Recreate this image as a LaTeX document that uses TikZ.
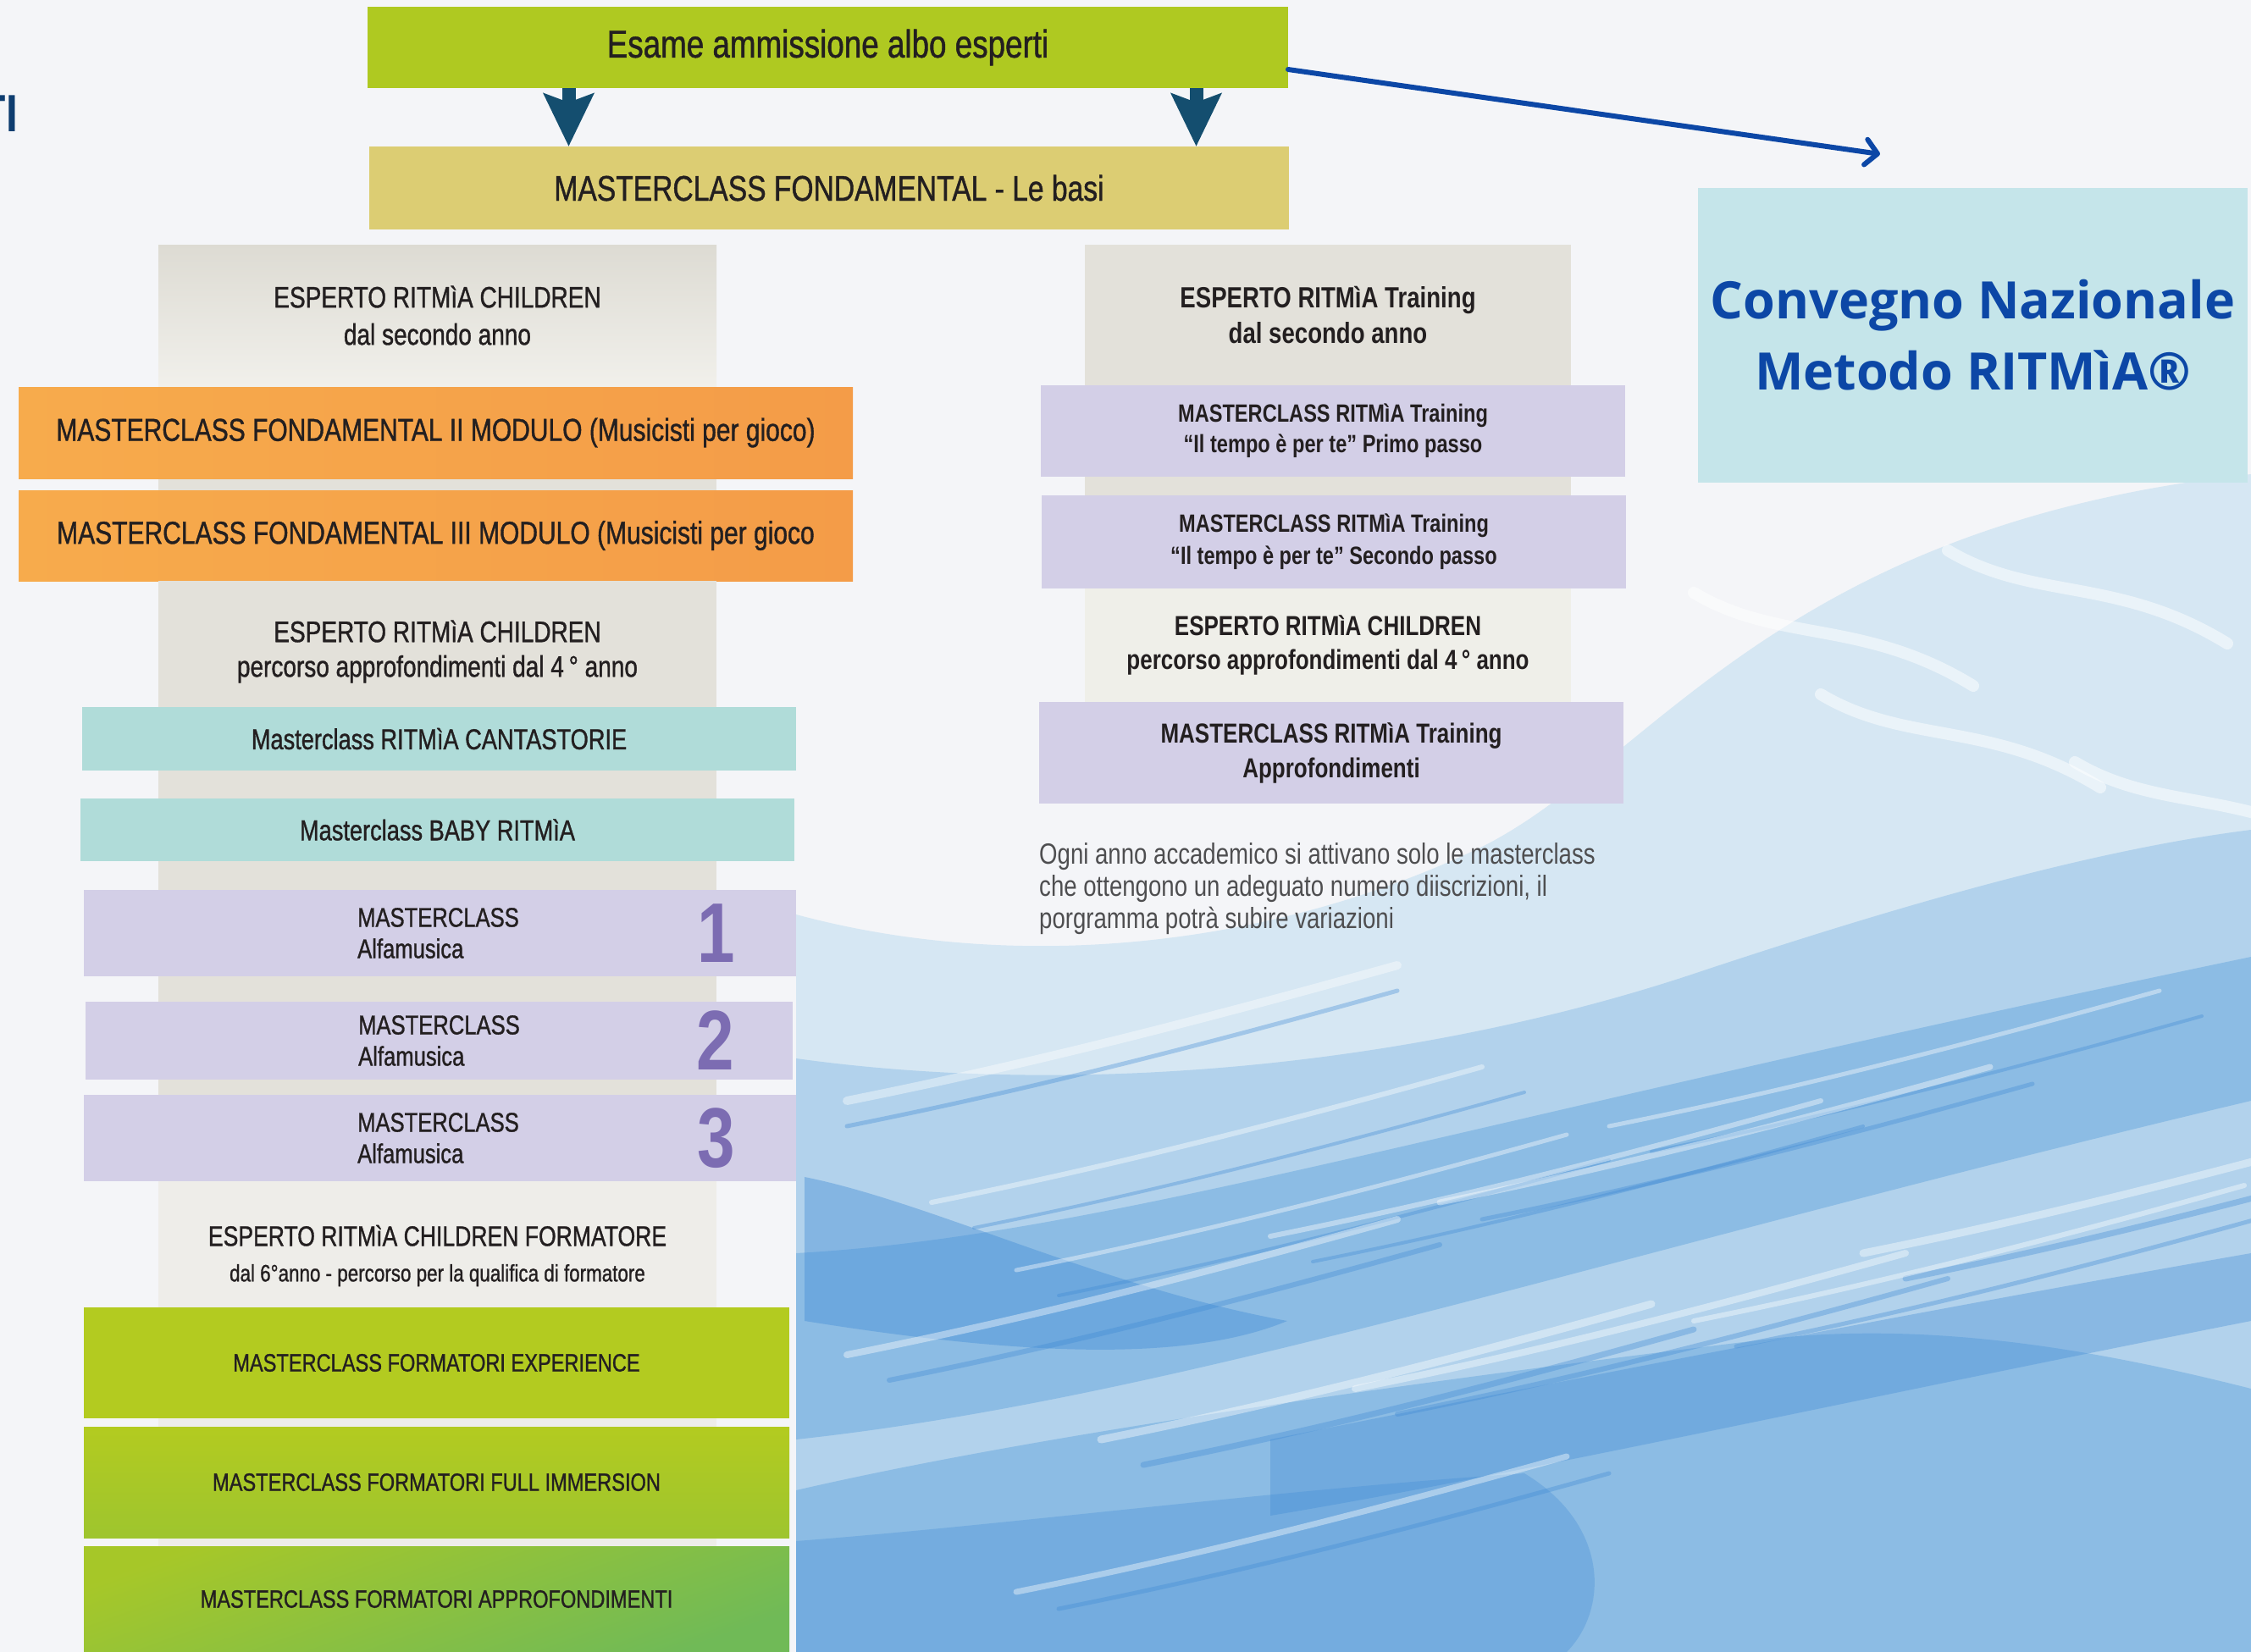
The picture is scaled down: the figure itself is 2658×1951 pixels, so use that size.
\documentclass[tikz,border=0pt]{standalone}
\usepackage{fontspec}
\setmainfont{Liberation Sans}[FakeStretch=0.8]
\newfontfamily\medfont{Liberation Sans}[FakeStretch=0.8, FakeBold=1.0]
\newfontfamily\convfont{Open Sans}
\usetikzlibrary{arrows.meta}
\definecolor{bgc}{HTML}{F4F5F8}
\definecolor{txt}{HTML}{231F20}
\definecolor{notec}{HTML}{4E4E50}
\definecolor{topgreen}{HTML}{AFC921}
\definecolor{khaki}{HTML}{DCCD73}
\definecolor{orA}{HTML}{F7AB4C}
\definecolor{orB}{HTML}{F49C48}
\definecolor{grayA}{HTML}{DDDBD3}
\definecolor{grayB}{HTML}{F1F0EB}
\definecolor{grayC}{HTML}{E3E1DA}
\definecolor{grayD}{HTML}{EEEDE9}
\definecolor{grayE}{HTML}{EFEFE9}
\definecolor{teal}{HTML}{B0DCD9}
\definecolor{lav}{HTML}{D3CFE7}
\definecolor{numc}{HTML}{7C6CB2}
\definecolor{grnA}{HTML}{B3CB20}
\definecolor{grnB}{HTML}{9EC52E}
\definecolor{grnC}{HTML}{70BA57}
\definecolor{convbg}{HTML}{C5E5EA}
\definecolor{convblue}{HTML}{0C47A6}
\definecolor{arrowc}{HTML}{144E6F}
\definecolor{navy}{HTML}{0E3D70}
\definecolor{blA}{HTML}{D6E7F3}
\definecolor{blB}{HTML}{A9CDEB}
\definecolor{blC}{HTML}{74AEE0}
\definecolor{blD}{HTML}{3F8AD5}
\begin{document}
\begin{tikzpicture}[x=1pt,y=-1pt,
  box/.style={anchor=north west, inner sep=0pt, outer sep=0pt, align=center, text=txt},
  sz/.style 2 args={font=\medfont\fontsize{#1}{#2}\selectfont},
  bsz/.style 2 args={font=\fontsize{#1}{#2}\selectfont\bfseries},
  darr/.style={draw=arrowc, line width=16pt, -{Stealth[length=62pt,width=58pt,inset=10pt]}},
  barr/.style={draw=convblue, line width=6pt, line cap=round, -{Straight Barb[length=14pt,width=30pt,line cap=round,line join=round]}},
  streak/.style={draw=white, line cap=round, opacity=0.4},
  bstreak/.style={draw=blD, line cap=round, opacity=0.35}
]
\useasboundingbox (0,0) rectangle (2658,1951);
% ---------- background ----------
\fill[bgc] (0,0) rectangle (2658,1951);
\fill[blA] (940,1080) .. controls (1200,1150) and (1500,1120) .. (1750,1000)
  .. controls (1950,900) and (2100,620) .. (2658,560) -- (2658,1951) -- (940,1951) -- cycle;
\fill[blB, opacity=0.8] (940,1250) .. controls (1300,1300) and (1700,1250) .. (2000,1150)
  .. controls (2300,1050) and (2500,1000) .. (2658,980) -- (2658,1951) -- (940,1951) -- cycle;
\fill[blC, opacity=0.6] (940,1480) .. controls (1300,1460) and (1700,1330) .. (2658,1130)
  -- (2658,1300) .. controls (1900,1480) and (1400,1650) .. (940,1700) -- cycle;
\fill[blC, opacity=0.6] (940,1760) .. controls (1200,1700) and (1600,1640) .. (2100,1580)
  .. controls (2300,1560) and (2500,1600) .. (2658,1640) -- (2658,1951) -- (940,1951) -- cycle;
\fill[blD, opacity=0.4] (950,1390) .. controls (1100,1420) and (1300,1520) .. (1520,1560)
  .. controls (1400,1610) and (1200,1600) .. (950,1560) -- cycle;
\fill[blD, opacity=0.35] (1500,1700) .. controls (1800,1640) and (2200,1560) .. (2658,1480)
  -- (2658,1560) .. controls (2200,1650) and (1800,1740) .. (1500,1790) -- cycle;
\fill[blD, opacity=0.3] (940,1820) .. controls (1200,1800) and (1500,1760) .. (1800,1740)
  .. controls (1900,1800) and (1900,1900) .. (1850,1951) -- (940,1951) -- cycle;
\foreach \a/\b/\w in {1000/1330/5, 1150/1450/4, 1050/1630/6, 1250/1530/4, 1350/1730/7,
  1550/1490/4, 1750/1440/5, 1950/1360/4, 1650/1670/6, 2050/1590/5, 2250/1510/7, 1250/1900/5}
  \draw[bstreak, line width=\w pt] (\a,\b) .. controls (\a+200,\b-40) and (\a+400,\b-90) .. (\a+650,\b-160);
\foreach \a/\b/\w in {1000/1300/10, 1100/1420/6, 1000/1600/8, 1200/1500/5, 1300/1700/9,
  1500/1460/6, 1700/1420/7, 1900/1330/5, 1600/1640/8, 2000/1560/6, 2200/1480/9, 1200/1880/7}
  \draw[streak, line width=\w pt] (\a,\b) .. controls (\a+200,\b-40) and (\a+400,\b-90) .. (\a+650,\b-160);
\foreach \a/\b in {2000/700, 2150/820, 2300/650, 2450/900}
  \draw[streak, line width=14pt, opacity=0.5] (\a,\b) .. controls (\a+100,\b+60) and (\a+200,\b+30) .. (\a+330,\b+110);
% cut-off heading at left edge
\node[anchor=base east, inner sep=0pt, text=navy, font=\fontsize{62}{62}\selectfont\bfseries] (ti) at (21,155) {TI};
% ---------- top ----------
\node[box, fill=topgreen, minimum width=1087pt, minimum height=96pt, sz={46}{50}] (exam) at (434,8) {Esame ammissione albo esperti};
\node[box, fill=khaki, minimum width=1086pt, minimum height=98pt, sz={42}{46}] (fond) at (436,173) {MASTERCLASS FONDAMENTAL - Le basi};
\draw[darr] ([xshift=-306pt]exam.south) -- ([xshift=-306pt]exam.south |- fond.north);
\draw[darr] ([xshift=435pt]exam.south) -- ([xshift=435pt]exam.south |- fond.north);
\coordinate (cend) at (2220,182);
\draw[barr] ([yshift=-26pt]exam.east) -- (cend);
% ---------- convegno ----------
\node[box, fill=convbg, minimum width=649pt, minimum height=348pt, text=convblue,
  font=\convfont\bfseries\fontsize{61}{84}\selectfont] (conv) at (2005,222) {Convegno Nazionale\\Metodo RITMìA®};
% ---------- left column ----------
\fill[grayC] (187,289) rectangle (846,1395);
\fill[grayD] (187,1395) rectangle (846,1830);
\node[box, top color=grayA, bottom color=grayB, minimum width=659pt, minimum height=167pt, sz={35}{44}] (lg1) at (187,289)
  {ESPERTO RITMìA CHILDREN\\dal secondo anno};
\node[box, left color=orA, right color=orB, minimum width=985pt, minimum height=108pt, sz={37.5}{40}] (or1) at (22,457)
  {MASTERCLASS FONDAMENTAL II MODULO (Musicisti per gioco)};
\node[box, left color=orA, right color=orB, minimum width=985pt, minimum height=107pt, sz={37.5}{40}] (or2) at (22,579)
  {MASTERCLASS FONDAMENTAL III MODULO (Musicisti per gioco};
\node[box, fill=grayC, minimum width=659pt, minimum height=167pt, font=\medfont\fontsize{35}{41}\selectfont] (lg2) at (187,686)
  {ESPERTO RITMìA CHILDREN\\percorso approfondimenti dal 4\,° anno};
\node[box, fill=teal, minimum width=843pt, minimum height=75pt, sz={34}{40}] (t1) at (97,835) {Masterclass RITMìA CANTASTORIE};
\node[box, fill=teal, minimum width=843pt, minimum height=74pt, sz={34}{40}] (t2) at (95,943) {Masterclass BABY RITMìA};
\node[box, fill=lav, minimum width=841pt, minimum height=102pt] (l1) at (99,1051) {};
\node[box, fill=lav, minimum width=835pt, minimum height=92pt] (l2) at (101,1183) {};
\node[box, fill=lav, minimum width=841pt, minimum height=102pt] (l3) at (99,1293) {};
\foreach \n/\d/\dx in {l1/1/0, l2/2/2, l3/3/0} {
  \node[anchor=center, inner sep=0pt, align=left, text=txt, sz={32}{37}] at ([xshift=-2pt+\dx pt]\n.center) {MASTERCLASS\\Alfamusica};
  \node[anchor=center, inner sep=0pt, text=numc, font=\fontsize{100}{100}\selectfont\bfseries] (\n num) at ([xshift=326pt]\n.center) {\d};
}
\node[box, fill=grayD, minimum width=659pt, minimum height=176pt, font=\medfont\fontsize{33.2}{42}\selectfont] (lg3) at (187,1395)
  {ESPERTO RITMìA CHILDREN FORMATORE\\{\fontsize{28}{30}\selectfont dal 6°anno - percorso per la qualifica di formatore}};
\node[box, fill=grnA, minimum width=833pt, minimum height=131pt, sz={29.5}{32}] (g1) at (99,1544) {MASTERCLASS FORMATORI EXPERIENCE};
\node[box, top color=grnA, bottom color=grnB, minimum width=833pt, minimum height=131pt, sz={29.5}{32}] (g2) at (99,1685) {MASTERCLASS FORMATORI FULL IMMERSION};
\node[box, top color=grnB!60!grnA, bottom color=grnC, shading angle=20, minimum width=833pt, minimum height=125pt, sz={29.5}{32}] (g3) at (99,1826) {MASTERCLASS FORMATORI APPROFONDIMENTI};
% ---------- right column ----------
\fill[grayC] (1281,289) rectangle (1855,829);
\node[box, fill=grayC, minimum width=574pt, minimum height=166pt, bsz={34.5}{42}] (rg1) at (1281,289)
  {ESPERTO RITMìA Training\\dal secondo anno};
\node[box, fill=lav, minimum width=690pt, minimum height=108pt, bsz={29.5}{36}] (rl1) at (1229,455)
  {MASTERCLASS RITMìA Training\\“Il tempo è per te” Primo passo};
\node[box, fill=lav, minimum width=690pt, minimum height=110pt, bsz={29.5}{38}] (rl2) at (1230,585)
  {MASTERCLASS RITMìA Training\\“Il tempo è per te” Secondo passo};
\node[box, fill=grayE, minimum width=574pt, minimum height=134pt, bsz={32.5}{40}] (rg2) at (1281,695)
  {ESPERTO RITMìA CHILDREN\\percorso approfondimenti dal 4\,° anno};
\node[box, fill=lav, minimum width=690pt, minimum height=120pt, bsz={32.5}{41}] (rl3) at (1227,829)
  {MASTERCLASS RITMìA Training\\Approfondimenti};
\node[anchor=north west, inner sep=0pt, align=left, text=notec, font=\fontsize{34.5}{38}\selectfont] (note) at (1227,995)
  {Ogni anno accademico si attivano solo le masterclass\\che ottengono un adeguato numero diiscrizioni, il\\porgramma potrà subire variazioni};
\end{tikzpicture}
\end{document}
